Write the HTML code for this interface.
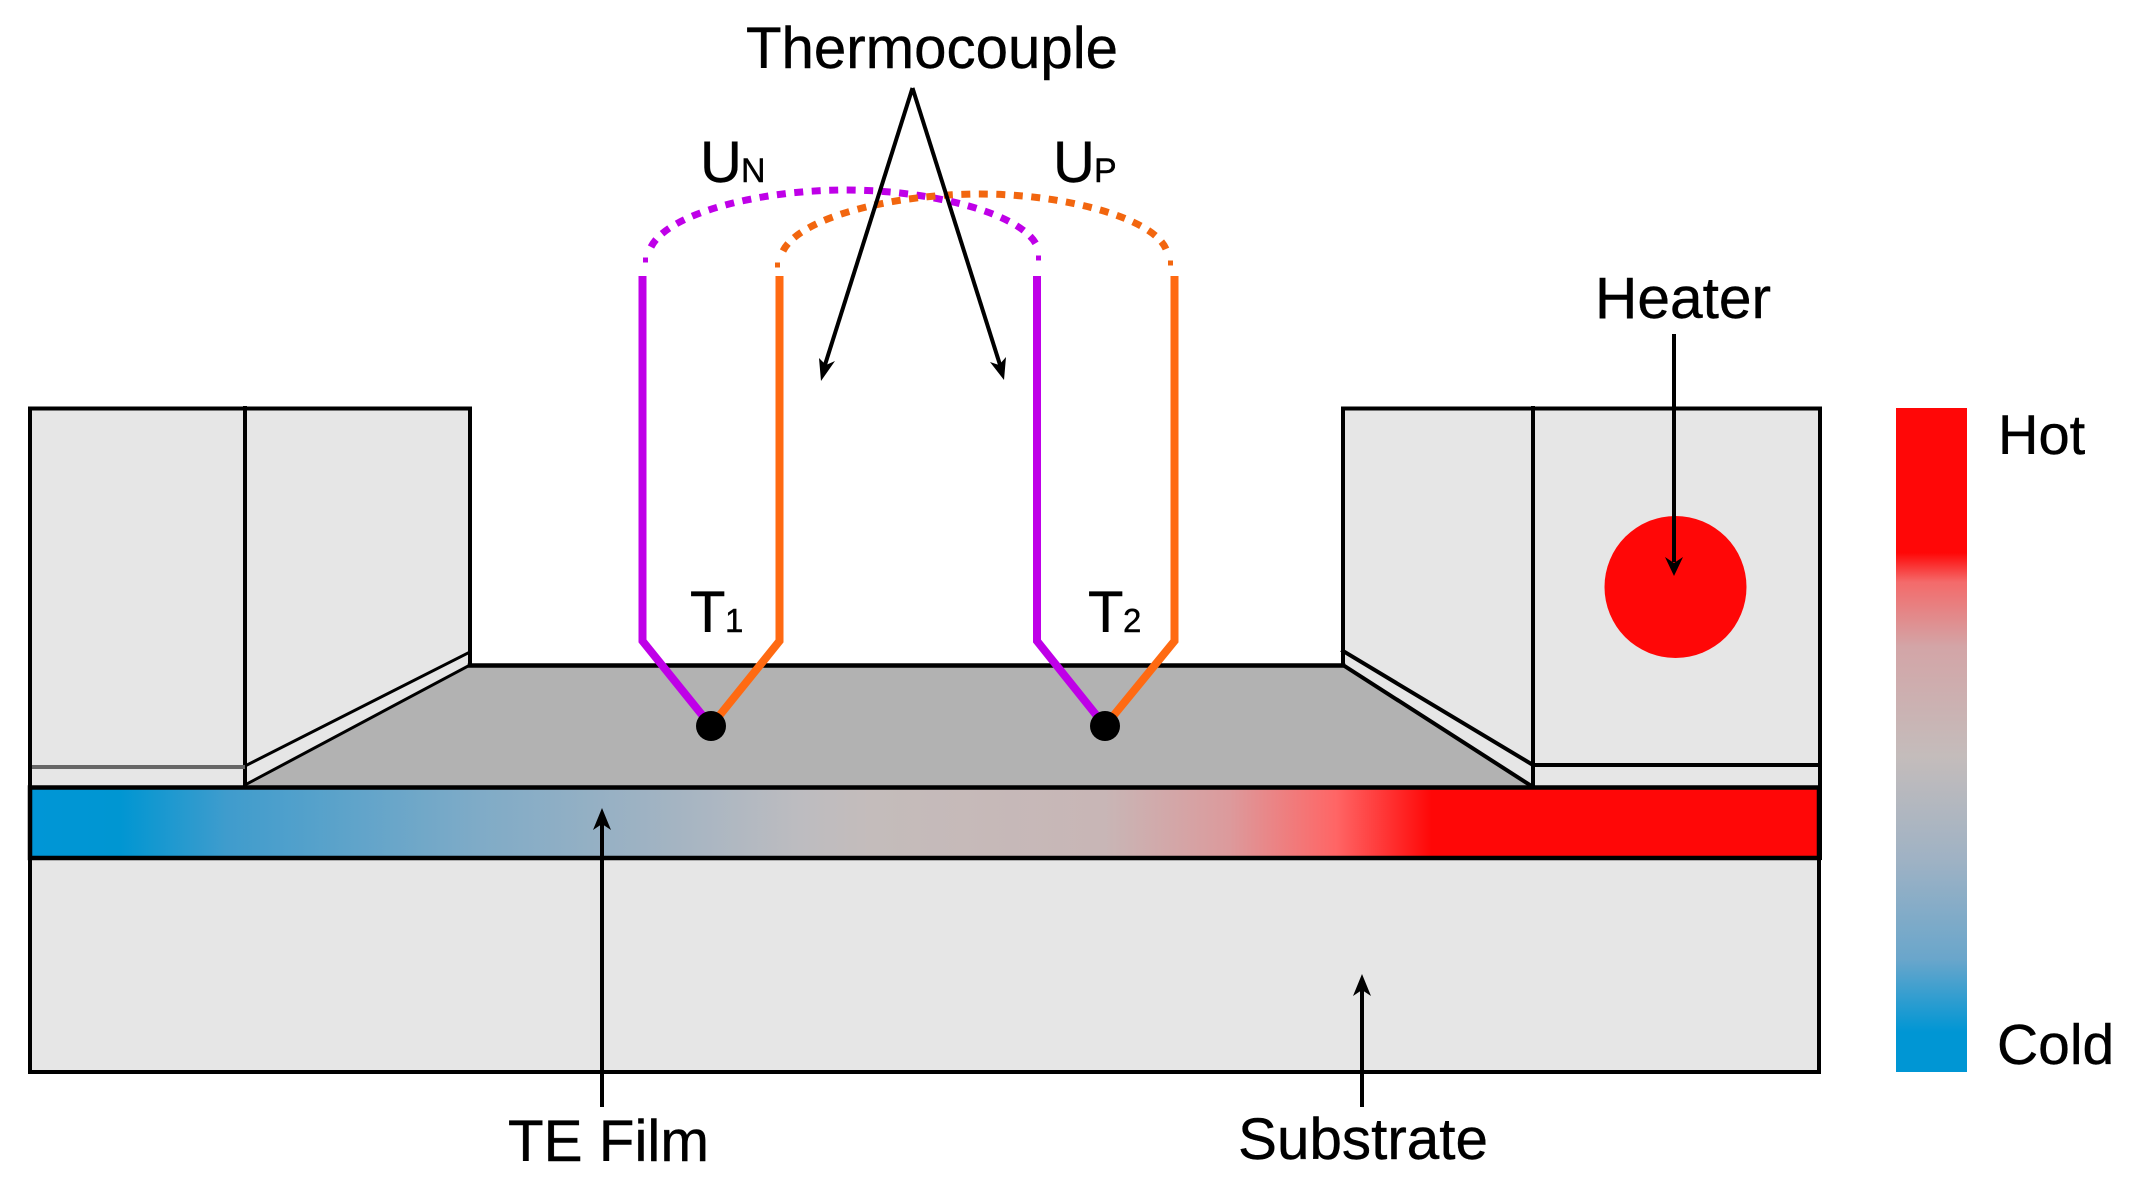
<!DOCTYPE html>
<html>
<head>
<meta charset="utf-8">
<style>
html,body{margin:0;padding:0;background:#fff}
svg{display:block}
text{font-family:"Liberation Sans",Arial,sans-serif;fill:#000;stroke:#000;stroke-width:0.4px}
</style>
</head>
<body>
<svg xmlns="http://www.w3.org/2000/svg" width="2131" height="1187" viewBox="0 0 2131 1187">
<defs>
<linearGradient id="film" gradientUnits="userSpaceOnUse" x1="30" y1="0" x2="1820" y2="0">
<stop offset="0" stop-color="#0096d6"/>
<stop offset="0.05" stop-color="#0096d2"/>
<stop offset="0.11" stop-color="#3f9ccd"/>
<stop offset="0.25" stop-color="#7fabc7"/>
<stop offset="0.34" stop-color="#9db2c3"/>
<stop offset="0.43" stop-color="#bdbcc0"/>
<stop offset="0.47" stop-color="#c4bcbb"/>
<stop offset="0.60" stop-color="#c8b6b6"/>
<stop offset="0.67" stop-color="#dc9a9c"/>
<stop offset="0.73" stop-color="#ff6565"/>
<stop offset="0.783" stop-color="#ff0707"/>
<stop offset="1" stop-color="#ff0707"/>
</linearGradient>
<linearGradient id="bar" gradientUnits="userSpaceOnUse" x1="0" y1="408" x2="0" y2="1072">
<stop offset="0" stop-color="#ff0707"/>
<stop offset="0.218" stop-color="#ff0707"/>
<stop offset="0.262" stop-color="#f46a6a"/>
<stop offset="0.36" stop-color="#d3a5a7"/>
<stop offset="0.524" stop-color="#c4bcbb"/>
<stop offset="0.68" stop-color="#9fb2c4"/>
<stop offset="0.83" stop-color="#6aa6cb"/>
<stop offset="0.94" stop-color="#0096d4"/>
<stop offset="1" stop-color="#0096d4"/>
</linearGradient>
</defs>

<!-- substrate -->
<rect x="30" y="858" width="1789" height="214" fill="#e6e6e6" stroke="#000" stroke-width="4"/>

<!-- left block -->
<polygon points="30,408 470,408 470,665 245,787 30,787" fill="#e6e6e6"/>
<!-- right block -->
<polygon points="1343,408 1820,408 1820,787 1533,787 1343,665" fill="#e6e6e6"/>
<!-- grey floor -->
<polygon points="245,787 469,665 1343,665 1533,787" fill="#b2b2b2"/>

<!-- block lines -->
<g fill="none" stroke="#000" stroke-linecap="square">
<path d="M30,408.500 H470 V665" stroke-width="4"/>
<path d="M245,408 V788" stroke-width="4"/>
<path d="M245,766 L470,652" stroke-width="3"/>
<path d="M245,785 L470,665" stroke-width="3"/>
<path d="M1343,665 V408.500 H1820 V858" stroke-width="4"/>
<path d="M1533,408 V787" stroke-width="4"/>
<path d="M1343,651 L1533,765 H1820" stroke-width="4"/>
<path d="M1343,665 L1533,787" stroke-width="4"/>
<path d="M470,665.500 H1343" stroke-width="4.500"/>
</g>
<line x1="31" y1="767" x2="245" y2="767" stroke="#666" stroke-width="4"/>
<line x1="30" y1="408" x2="30" y2="787" stroke="#000" stroke-width="4"/>

<!-- TE film -->
<rect x="30" y="787.500" width="1789" height="70.500" fill="url(#film)" stroke="#000" stroke-width="4.500"/>

<!-- heater -->
<circle cx="1675.500" cy="587" r="71" fill="#ff0707"/>

<!-- colour bar -->
<rect x="1896" y="408" width="71" height="664" fill="url(#bar)"/>

<!-- thermocouple wires -->
<g fill="none" stroke-width="8" stroke-linejoin="miter">
<path d="M642.500,276 V641 L711,726" stroke="#bf00e8"/>
<path d="M779.500,276 V641 L711,726" stroke="#ff6a12"/>
<path d="M1037,276 V641 L1105,726" stroke="#bf00e8"/>
<path d="M1174.500,276 V641 L1105,726" stroke="#ff6a12"/>
</g>
<ellipse cx="711" cy="726" rx="15" ry="15" fill="#000"/>
<ellipse cx="1105" cy="726" rx="15" ry="15" fill="#000"/>

<!-- dashed arcs -->
<g fill="none" stroke-width="7" stroke-dasharray="9 8.500">
<path d="M651,247 C668,213 760,190 846,190 C930,190 1022,213 1037,246" stroke="#bf00e8"/>
<path d="M783,251 C800,217 894,194 980,194 C1062,194 1152,217 1166,249" stroke="#f2660f"/>
</g>
<g stroke-width="5" fill="none">
<path d="M643,260 H648" stroke="#bf00e8"/>
<path d="M1036,258 H1041" stroke="#bf00e8"/>
<path d="M775,265 H780" stroke="#f2660f"/>
<path d="M1168,263 H1173" stroke="#f2660f"/>
</g>

<!-- arrows -->
<g fill="none" stroke="#000" stroke-width="4">
<path d="M912.500,88 L824,368"/>
<path d="M912.500,88 L1001,368"/>
<path d="M1674,334 V562"/>
<path d="M602,822 V1107"/>
<path d="M1362,988 V1107"/>
</g>
<g fill="#000" stroke="none">
<polygon points="821,381 819,358 826,365 835,361"/>
<polygon points="1004,380 990,362 999,365 1006,357"/>
<polygon points="1674,576 1665,557 1674,563 1683,557"/>
<polygon points="602,808 593,830 602,824 611,830"/>
<polygon points="1362,974 1353,996 1362,990 1371,996"/>
</g>

<!-- labels -->
<text x="746" y="68" font-size="58" textLength="372" lengthAdjust="spacingAndGlyphs">Thermocouple</text>
<text x="700" y="182" font-size="58">U</text>
<text x="741" y="182" font-size="34">N</text>
<text x="1053" y="182" font-size="58">U</text>
<text x="1094" y="182" font-size="34">P</text>
<text x="690" y="632" font-size="58">T</text>
<text x="725" y="632" font-size="33">1</text>
<text x="1088" y="632" font-size="58">T</text>
<text x="1123" y="632" font-size="33">2</text>
<text x="1595" y="318" font-size="58" textLength="176" lengthAdjust="spacingAndGlyphs">Heater</text>
<text x="1998" y="454" font-size="56">Hot</text>
<text x="1997" y="1064" font-size="57">Cold</text>
<text x="508" y="1161" font-size="58" textLength="201" lengthAdjust="spacingAndGlyphs">TE Film</text>
<text x="1238" y="1159" font-size="58" textLength="250" lengthAdjust="spacingAndGlyphs">Substrate</text>
</svg>
</body>
</html>
